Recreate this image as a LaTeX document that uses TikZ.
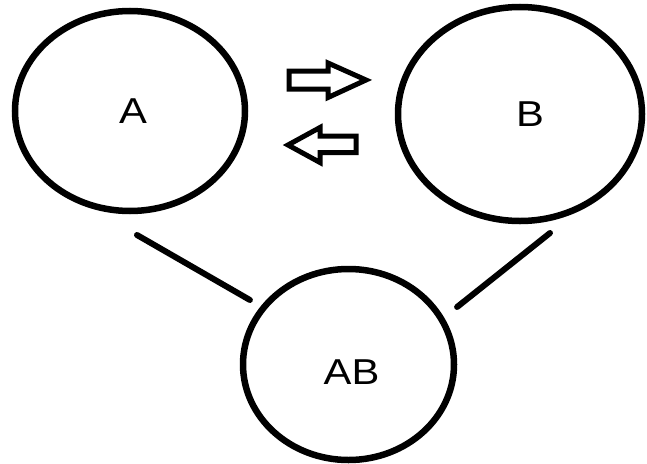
\documentclass[tikz,border=0pt]{standalone}
\usepackage{fontspec}
\usepackage{tikz}
\usetikzlibrary{shapes.geometric}
\newfontfamily\labelfont[FakeStretch=1.16]{Liberation Sans}

\begin{document}
\begin{tikzpicture}[
    x=1pt, y=-1pt,
    blob/.style={ellipse, draw, line width=6.5pt, inner sep=0pt, outer sep=0pt},
    blobtext/.style={inner sep=0pt, font=\labelfont\fontsize{36}{40}\selectfont},
    link/.style={line width=6pt, line cap=round},
    hollow/.style={draw, line width=5pt, line join=miter}
]
    \useasboundingbox (0,0) rectangle (647,463);

    \node[blob, minimum width=230pt, minimum height=200pt, label={[blobtext, xshift=3pt]center:A}] (A) at (130,111) {};
    \node[blob, minimum width=244pt, minimum height=214pt, label={[blobtext, xshift=10pt]center:B}] (B) at (520,114) {};
    \node[blob, minimum width=211pt, minimum height=191pt, label={[blobtext, xshift=3pt, yshift=-8pt]center:AB}] (AB) at (348.5,364.5) {};

    % exchange arrows
    \draw[hollow] (289,71) -- (328,71) -- (328,63) -- (366,80) -- (328,97.5) -- (328,89) -- (289,89) -- cycle;
    \draw[hollow] (356,136) -- (320,136) -- (320,127.5) -- (288,145) -- (320,162.5) -- (320,152.5) -- (356,152.5) -- cycle;

    \draw[link] ([xshift=7pt,yshift=-24pt]A.south) -- ([xshift=-24pt,yshift=-3pt]AB.north west);
    \draw[link] ([xshift=30pt,yshift=-12pt]B.south) -- ([xshift=34pt,yshift=-10pt]AB.north east);
\end{tikzpicture}
\end{document}
